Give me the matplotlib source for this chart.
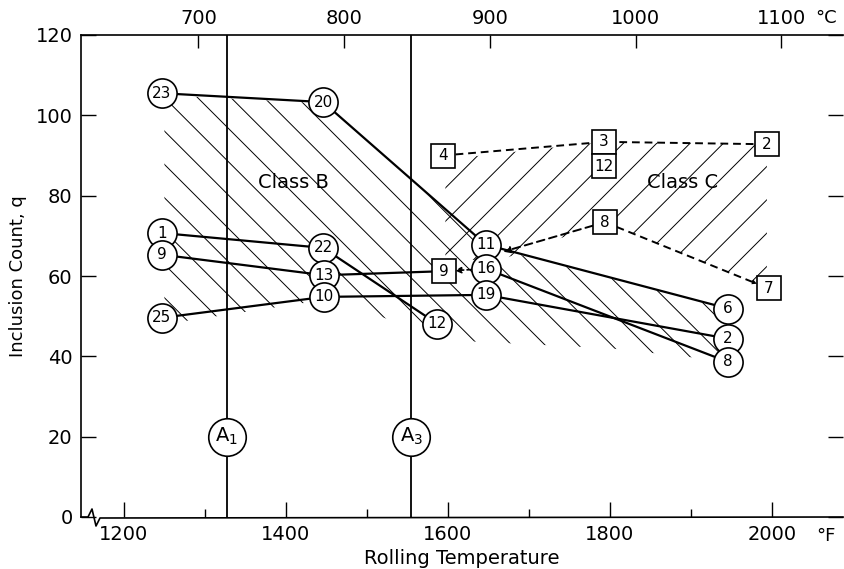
import matplotlib
matplotlib.use('Agg')
import matplotlib.pyplot as plt
from matplotlib.patches import Polygon

# ============== data ==============
# Class B samples (circles): rolling temperature (F) and inclusion count q
circle_labels = ['23', '1', '9', '25', '20', '22', '13', '10', '12', '11', '16', '19', '6', '2', '8']
circle_temp = [1247, 1247, 1247, 1247, 1446, 1446, 1447, 1447, 1587, 1647, 1647, 1647, 1946, 1946, 1946]
circle_count = [105.5, 70.7, 65.3, 49.6, 103.3, 67.0, 60.2, 54.8, 48.1, 67.8, 61.8, 55.3, 51.9, 44.4, 38.6]

# Class C samples (squares)
square_labels = ['4', '9', '3', '12', '8', '2', '7']
square_temp = [1594, 1595, 1793, 1793, 1794, 1994, 1996]
square_count = [90.0, 61.2, 93.4, 87.3, 73.4, 92.8, 56.9]

# connections ('c' = circle, 's' = square)
solid_paths = [['c23', 'c20', 'c11', 'c6'],
               ['c1', 'c22', 'c12'],
               ['c9', 'c13', 's9'],
               ['c25', 'c10', 'c19', 'c2'],
               ['c16', 'c8']]
dashed_paths = [['s4', 's3', 's2'],
                ['s8', 's7']]

# hatched bands (F, q)
class_b_temp = [1250, 1446, 1647, 1935, 1935, 1800, 1600, 1560, 1500, 1446, 1250]
class_b_count = [105, 103, 67.5, 52.3, 39, 42, 44, 47, 51, 54, 48]
class_c_temp = [1597, 1793, 1994, 1994, 1794, 1665, 1597]
class_c_count = [89, 93.4, 92.8, 57, 73.4, 64, 64]

# critical temperatures
A1_TEMP = 1327
A3_TEMP = 1555

x_ticks_f = [1200, 1400, 1600, 1800, 2000]
x_minor_f = [1300, 1500, 1700, 1900]
x_ticks_c = [700, 800, 900, 1000, 1100]
y_ticks = [0, 20, 40, 60, 80, 100, 120]

# ============== plot ==============
plt.rcParams['font.family'] = ['DejaVu Sans']
plt.rcParams['hatch.linewidth'] = 0.7

fig = plt.figure(figsize=(8.44, 5.69), dpi=100)
ax = fig.add_axes([81 / 844, 52 / 569, 762 / 844, 482 / 569])
ax.set_xlim(1147, 2088)
ax.set_ylim(0, 120)

points = {}
for lab, t, q in zip(circle_labels, circle_temp, circle_count):
    points['c' + lab] = (t, q)
for lab, t, q in zip(square_labels, square_temp, square_count):
    points['s' + lab] = (t, q)

# hatched regions
ax.add_patch(Polygon(list(zip(class_b_temp, class_b_count)), closed=True, fill=False,
                     hatch='\\', edgecolor='black', linewidth=0, zorder=1))
ax.add_patch(Polygon(list(zip(class_c_temp, class_c_count)), closed=True, fill=False,
                     hatch='/', edgecolor='black', linewidth=0, zorder=1))

# transformation lines
for t, name in [(A1_TEMP, 'A$_1$'), (A3_TEMP, 'A$_3$')]:
    ax.axvline(t, color='black', lw=1.3, zorder=2)
    ax.plot(t, 20, 'o', ms=27, mfc='white', mec='black', mew=1.2, zorder=3)
    ax.text(t, 20, name, ha='center', va='center', fontsize=14, zorder=4)

for path in solid_paths:
    xs = [points[p][0] for p in path]
    ys = [points[p][1] for p in path]
    ax.plot(xs, ys, color='black', lw=1.6, zorder=2)

for path in dashed_paths:
    xs = [points[p][0] for p in path]
    ys = [points[p][1] for p in path]
    ax.plot(xs, ys, color='black', lw=1.4, ls=(0, (4, 2.5)), zorder=2)

# dashed arrows
junction = ((points['c11'][0] + points['c16'][0]) / 2, (points['c11'][1] + points['c16'][1]) / 2)
ax.annotate('', xy=junction, xytext=points['s8'],
            arrowprops=dict(arrowstyle='-|>', ls=(0, (4, 2.5)), lw=1.4, color='black',
                            shrinkA=9, shrinkB=13, mutation_scale=10), zorder=2)
ax.annotate('', xy=points['s9'], xytext=points['c16'],
            arrowprops=dict(arrowstyle='-|>', ls=(0, (3, 2)), lw=1.2, color='black',
                            shrinkA=10, shrinkB=8, mutation_scale=9), zorder=2)
ax.annotate('', xy=points['s7'], xytext=points['s8'],
            arrowprops=dict(arrowstyle='-|>', lw=0, color='black',
                            shrinkA=0, shrinkB=9, mutation_scale=9), zorder=2)

# markers
ax.plot(circle_temp, circle_count, 'o', ms=21, mfc='white', mec='black', mew=1.2, zorder=3)
for lab, t, q in zip(circle_labels, circle_temp, circle_count):
    ax.text(t, q, lab, ha='center', va='center', fontsize=11, zorder=4)
ax.plot(square_temp, square_count, 's', ms=17, mfc='white', mec='black', mew=1.2, zorder=3)
for lab, t, q in zip(square_labels, square_temp, square_count):
    ax.text(t, q, lab, ha='center', va='center', fontsize=11, zorder=4)

ax.text(1409, 83.2, 'Class B', ha='center', va='center', fontsize=14)
ax.text(1890, 83.4, 'Class C', ha='center', va='center', fontsize=14)

# axes styling
ax.spines['right'].set_visible(False)
ax.spines['bottom'].set_visible(False)
ax.spines['left'].set_linewidth(1.2)
ax.spines['top'].set_visible(False)

ax.set_xticks(x_ticks_f)
ax.set_xticks(x_minor_f, minor=True)
ax.set_yticks(y_ticks)
ax.tick_params(axis='x', which='major', direction='in', length=11, width=1, labelsize=14, pad=6)
ax.tick_params(axis='x', which='minor', direction='in', length=6, width=1)
ax.tick_params(axis='y', direction='in', length=11, width=1, labelsize=14, pad=6,
               right=True)
ax.set_xlabel('Rolling Temperature', fontsize=14, labelpad=3)
ax.set_ylabel('Inclusion Count, q', fontsize=13, labelpad=6)

# bottom line with axis break
W, H = 762.0, 482.0
bx = [0, 7, 11, 15, 19, W]
by = [0, 0, 8, -9, -1, 0]
ax.plot([v / W for v in bx], [v / H for v in by], color='black', lw=1.2,
        transform=ax.transAxes, clip_on=False, zorder=5)

# top Celsius scale
secax = ax.secondary_xaxis('top', functions=(lambda f: (f - 32) * 5 / 9, lambda c: c * 9 / 5 + 32))
secax.set_xticks(x_ticks_c)
secax.tick_params(direction='in', length=9, width=1, labelsize=14, pad=5)
secax.spines['top'].set_linewidth(1.2)

ax.annotate('°C', xy=(1.0, 1.0), xycoords='axes fraction', xytext=(-12, 12),
            textcoords='offset points', ha='center', va='center', fontsize=13)
ax.annotate('°F', xy=(1.0, 0.0), xycoords='axes fraction', xytext=(-12, -14),
            textcoords='offset points', ha='center', va='center', fontsize=13)

plt.savefig('out.png', dpi=100)
